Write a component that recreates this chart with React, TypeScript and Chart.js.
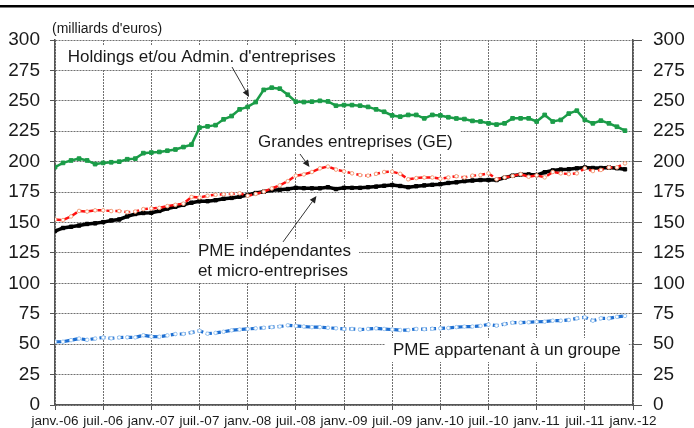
import React, { useEffect, useRef } from "react";
import { Chart, registerables } from "chart.js";

Chart.register(...registerables);

const FONT = '"Liberation Sans", Arial, Helvetica, sans-serif';

// Tick labels on the time axis (one every 6 months)
const xLabels = [
  "janv.-06", "juil.-06", "janv.-07", "juil.-07", "janv.-08", "juil.-08",
  "janv.-09", "juil.-09", "janv.-10", "juil.-10", "janv.-11", "juil.-11", "janv.-12",
];

// Monthly values, janv.-06 .. déc.-11 (milliards d'euros)
const holdings = [
  195.5, 199, 201, 202.5, 201, 198, 199, 199.5, 200, 202,
  202.5, 207, 207.5, 208, 209, 210, 212, 214, 228, 229,
  230, 234.8, 237.5, 243, 245, 249, 259, 260.8, 260, 255,
  249.3, 249, 249.3, 250, 249.5, 246, 246.5, 246.5, 246, 245,
  243, 241, 238, 237, 238.4, 238.4, 235.6, 238.4, 238, 236.5,
  235.5, 235, 233.5, 233, 231.5, 230.5, 231.5, 235.6, 235.6, 235.6,
  233, 238.4, 233, 234.3, 239.5, 241.9, 234.3, 231.5, 233.7, 231.5,
  228.7, 225.5,
];

const grandes = [
  152.5, 152, 155, 159.5, 159, 160, 160, 159.4, 159.4, 158.5,
  159, 161, 161.6, 162, 163.5, 164.5, 165.5, 171, 170.5, 172,
  172.8, 173.2, 173.5, 174, 172, 173.5, 175.3, 178, 180.5, 184,
  188.5, 189.5, 191.5, 194.5, 196, 193.5, 192, 190.4, 189, 188.5,
  190, 191.5, 191.8, 190, 185.5, 186.5, 187, 187, 186, 187,
  188, 187, 188.5, 189, 190.4, 185.5, 187, 188.2, 189.8, 187.6,
  188.8, 187.1, 191.5, 190.4, 189.8, 190.4, 194.5, 192.3, 193.2, 195.3,
  195.3, 198.6,
];

const pmeIndep = [
  143, 145.5, 146.5, 147.5, 148.8, 149.3, 150.3, 151.7, 152.5, 155,
  157, 157.8, 158, 159.5, 161.5, 163, 164.5, 166.3, 167.5, 167.5,
  168.3, 169.5, 170.2, 171.2, 172.6, 174.2, 175.3, 176.5, 177, 177.5,
  178.5, 178.2, 178.1, 178.1, 179, 177.5, 178.5, 178.5, 178.5, 179,
  179.5, 180.2, 180.8, 180, 179, 179.8, 180.5, 181, 181.5, 182.5,
  183, 184, 184.5, 184.9, 184.9, 184.9, 186.8, 188.5, 189.5, 189.5,
  189, 191.3, 192.8, 193.5, 193.8, 194.5, 195.2, 194.8, 194.8, 195.2,
  194.6, 193.7,
];

const pmeGroupe = [
  52, 52, 53.3, 54.6, 53.6, 54.6, 55.5, 54.8, 55.5, 55.6,
  55.6, 57.3, 56.2, 56.1, 57.2, 58.3, 58.4, 59.6, 61, 58.6,
  59.3, 60.2, 61.4, 62, 62.5, 63, 63.5, 64, 64.5, 65.5,
  65, 64.5, 64, 64, 63.5, 63, 62.5, 62.5, 62, 62.5,
  63, 62.5, 62, 61.6, 61.6, 62.5, 62.3, 62.7, 63, 63.3,
  64, 64.4, 64.5, 65, 66.2, 65.2, 66.5, 67.7, 67.7, 68,
  68.4, 68.5, 69.3, 69.3, 69.9, 71.2, 72.1, 69.3, 71.2, 71.2,
  72.5, 73.2,
];

const unitLabel = "(milliards d'euros)";

// Text notes, anchored in data units (month index, value)
const notes = [
  { lines: ["Holdings et/ou Admin. d'entreprises"], m: 1.6, v: 286 },
  { lines: ["Grandes entreprises (GE)"], m: 25.3, v: 216.2 },
  { lines: ["PME indépendantes", "et micro-entreprises"], m: 17.8, v: 118.4 },
  { lines: ["PME appartenant à un groupe"], m: 42.1, v: 45.2 },
];

const arrows = [
  { from: [22.05, 277.8], to: [24.17, 253.2] },
  { from: [30.52, 206.3], to: [31.7, 195.6] },
  { from: [28.4, 134], to: [32.57, 171.8] },
];

const toXY = (arr: number[]) => arr.map((v, i) => ({ x: i, y: v }));

const notesPlugin = {
  id: "notes",
  beforeDatasetsDraw(chart: any) {
    const { ctx } = chart;
    const xs = chart.scales.x;
    const ys = chart.scales.y;
    ctx.save();
    ctx.font = `17px ${FONT}`;
    ctx.textBaseline = "middle";
    ctx.textAlign = "left";
    const lh = 20;
    for (const n of notes) {
      const left = xs.getPixelForValue(n.m);
      const cy = ys.getPixelForValue(n.v);
      const w = Math.max(...n.lines.map((l) => ctx.measureText(l).width));
      const h = n.lines.length * lh;
      const top = cy - h / 2;
      ctx.fillStyle = "#ffffff";
      ctx.fillRect(left - 8, top - 2, w + 16, h + 4);
      ctx.fillStyle = "#1a1a1a";
      n.lines.forEach((l, i) => ctx.fillText(l, left, top + lh / 2 + i * lh + 0.5));
    }
    ctx.restore();
  },
  afterDatasetsDraw(chart: any) {
    const { ctx } = chart;
    const xs = chart.scales.x;
    const ys = chart.scales.y;
    ctx.save();
    ctx.strokeStyle = "#333";
    ctx.fillStyle = "#222";
    ctx.lineWidth = 1;
    for (const a of arrows) {
      const x1 = xs.getPixelForValue(a.from[0]);
      const y1 = ys.getPixelForValue(a.from[1]);
      const x2 = xs.getPixelForValue(a.to[0]);
      const y2 = ys.getPixelForValue(a.to[1]);
      const ang = Math.atan2(y2 - y1, x2 - x1);
      const hl = 7;
      const hw = 3.2;
      const bx = x2 - hl * Math.cos(ang);
      const by = y2 - hl * Math.sin(ang);
      ctx.beginPath();
      ctx.moveTo(x1, y1);
      ctx.lineTo(bx, by);
      ctx.stroke();
      ctx.beginPath();
      ctx.moveTo(x2, y2);
      ctx.lineTo(bx + hw * Math.sin(ang), by - hw * Math.cos(ang));
      ctx.lineTo(bx - hw * Math.sin(ang), by + hw * Math.cos(ang));
      ctx.closePath();
      ctx.fill();
    }
    // unit label
    ctx.font = `14px ${FONT}`;
    ctx.fillStyle = "#1a1a1a";
    ctx.textBaseline = "middle";
    ctx.textAlign = "left";
    ctx.fillText(unitLabel, xs.getPixelForValue(-0.37), ys.getPixelForValue(309));
    // top rule
    ctx.fillStyle = "#000";
    ctx.fillRect(0, 5, chart.width, 2.5);
    ctx.restore();
  },
};

export default function App() {
  const ref = useRef<HTMLCanvasElement>(null);
  useEffect(() => {
    const tickFont = { family: FONT, size: 19 };
    const chart = new Chart(ref.current as HTMLCanvasElement, {
      type: "line",
      data: {
        datasets: [
          {
            label: "Holdings",
            data: toXY(holdings),
            borderColor: "#1b9c48",
            backgroundColor: "#1b9c48",
            borderWidth: 2.5,
            pointStyle: "rect",
            pointRadius: 2.6,
            pointBorderWidth: 1,
            pointBorderColor: "#1b9c48",
            pointBackgroundColor: "#1b9c48",
            tension: 0,
          },
          {
            label: "GE",
            data: toXY(grandes),
            borderColor: "#ff1010",
            borderWidth: 2.5,
            borderDash: [6, 3],
            pointStyle: "circle",
            pointRadius: 1.8,
            pointBorderWidth: 1,
            pointBorderColor: "#f3a07c",
            pointBackgroundColor: "#ffffff",
            tension: 0,
          },
          {
            label: "PME indép",
            data: toXY(pmeIndep),
            borderColor: "#000000",
            borderWidth: 3.5,
            pointStyle: "rect",
            pointRadius: 2.4,
            pointBorderWidth: 1,
            pointBorderColor: "#000",
            pointBackgroundColor: "#000",
            tension: 0,
          },
          {
            label: "PME groupe",
            data: toXY(pmeGroupe),
            borderColor: "#1e6fd2",
            borderWidth: 3.2,
            borderDash: [6, 3],
            pointStyle: "circle",
            pointRadius: 1.8,
            pointBorderWidth: 1,
            pointBorderColor: "#9cc6f0",
            pointBackgroundColor: "#ffffff",
            tension: 0,
          },
        ],
      },
      options: {
        responsive: false,
        animation: false,
        events: [],
        layout: { padding: { top: 40, left: 0, right: 0, bottom: 0 } },
        plugins: { legend: { display: false }, tooltip: { enabled: false } },
        scales: {
          x: {
            type: "linear",
            position: "bottom",
            min: 0,
            max: 72,
            ticks: {
              stepSize: 6,
              autoSkip: false,
              maxRotation: 0,
              minRotation: 0,
              padding: 3,
              color: "#1a1a1a",
              font: { family: FONT, size: 13.5 },
              callback: (v: any) => xLabels[Math.round(Number(v) / 6)] ?? "",
            },
            grid: { display: true, drawOnChartArea: true, color: "#707070", lineWidth: 1, tickLength: 5, tickColor: "#555" },
            border: { display: true, color: "#555", width: 1.5, dash: [2, 1] },
            afterFit: (s: any) => {
              s.height = 23;
            },
          },
          y: {
            position: "left",
            min: 0,
            max: 300,
            ticks: { stepSize: 25, padding: 10, color: "#1a1a1a", font: tickFont },
            grid: { display: true, drawOnChartArea: true, color: "#707070", lineWidth: 1, tickLength: 5, tickColor: "#555" },
            border: { display: true, color: "#555", width: 1.5, dash: [2, 1] },
            afterFit: (s: any) => {
              s.width = 55;
            },
          },
          y2: {
            position: "right",
            min: 0,
            max: 300,
            ticks: { stepSize: 25, padding: 11, color: "#1a1a1a", font: tickFont },
            grid: { drawOnChartArea: false, tickLength: 9, tickColor: "#555" },
            border: { color: "#555", width: 1.5 },
            afterFit: (s: any) => {
              s.width = 61;
            },
          },
        },
      },
      plugins: [notesPlugin],
    } as any);
    return () => chart.destroy();
  }, []);
  return (
    <div style={{ position: "absolute", left: 0, top: 0, width: 694, height: 428, background: "#fff" }}>
      <canvas ref={ref} width={694} height={428} style={{ display: "block" }} />
    </div>
  );
}
